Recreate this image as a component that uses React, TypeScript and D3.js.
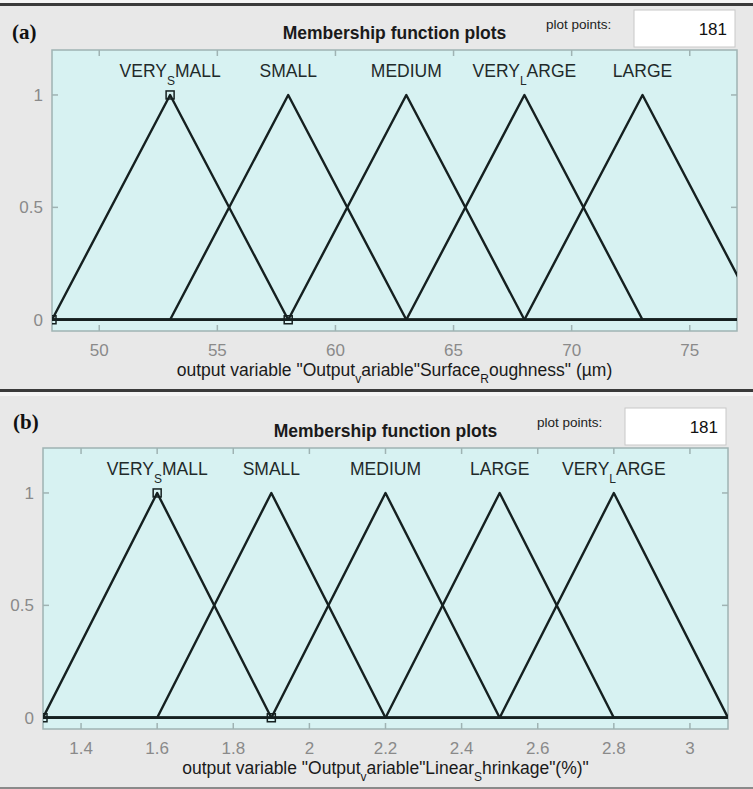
import * as d3 from 'd3';

// membership functions (trimf params)
const MF_NAMES_A = ['VERY_SMALL', 'SMALL', 'MEDIUM', 'VERY_LARGE', 'LARGE'];
const MF_PARAMS_A = [
  [48, 53, 58],
  [53, 58, 63],
  [58, 63, 68],
  [63, 68, 73],
  [68, 73, 78],
];
const X_DOMAIN_A = [48, 77];
const X_TICKS_A = [50, 55, 60, 65, 70, 75];
const X_LABEL_A = 'output variable "Output_variable"Surface_Roughness" (\u00b5m)';

const MF_NAMES_B = ['VERY_SMALL', 'SMALL', 'MEDIUM', 'LARGE', 'VERY_LARGE'];
const MF_PARAMS_B = [
  [1.3, 1.6, 1.9],
  [1.6, 1.9, 2.2],
  [1.9, 2.2, 2.5],
  [2.2, 2.5, 2.8],
  [2.5, 2.8, 3.1],
];
const X_DOMAIN_B = [1.3, 3.1];
const X_TICKS_B = [1.4, 1.6, 1.8, 2, 2.2, 2.4, 2.6, 2.8, 3];
const X_LABEL_B = 'output variable "Output_variable"Linear_Shrinkage"(%)"';

const Y_DOMAIN = [-0.05, 1.2];
const Y_TICKS = [0, 0.5, 1];
const PLOT_POINTS = 181;
const SELECTED = 0;

const FONT = '"Liberation Sans", Arial, Helvetica, sans-serif';
const PLOT_BG = '#d7f2f2';
const PANEL_BG = '#e8e8e8';
const AXIS_COLOR = '#9fb3b3';
const TICK_TEXT = '#8a8a8a';
const TEXT_COLOR = '#1f2a2a';

// matlab tex interpreter: "_X" puts X as a subscript
const texParts = (s) => {
  const parts = [];
  let buf = '';
  for (let i = 0; i < s.length; i++) {
    if (s[i] === '_' && i + 1 < s.length) {
      if (buf) parts.push({ text: buf, sub: false });
      buf = '';
      parts.push({ text: s[i + 1], sub: true });
      i++;
    } else {
      buf += s[i];
    }
  }
  if (buf) parts.push({ text: buf, sub: false });
  return parts;
};

const TexText = ({ str, subSize, shift }) => {
  let offset = 0;
  return texParts(str).map((p, i) => {
    const dy = p.sub ? shift - offset : -offset;
    offset = p.sub ? shift : 0;
    return (
      <tspan key={i} dy={dy} fontSize={p.sub ? subSize : undefined}>
        {p.text}
      </tspan>
    );
  });
};

const Panel = ({ id, tag, names, params, xDomain, xTicks, xLabel, box, tagPos }) => {
  const { left, right, top, bottom } = box;
  const x = d3.scaleLinear().domain(xDomain).range([left, right]);
  const y = d3.scaleLinear().domain(Y_DOMAIN).range([bottom, top]);
  const line = d3
    .line()
    .x((d) => x(d[0]))
    .y((d) => y(d[1]));
  const clipId = `clip-${id}`;
  const sel = params[SELECTED];

  return (
    <g>
      <defs>
        <clipPath id={clipId}>
          <rect x={left} y={top} width={right - left} height={bottom - top} />
        </clipPath>
      </defs>

      <text x={tagPos[0]} y={tagPos[1]} fontFamily='"Liberation Serif", "Times New Roman", serif' fontWeight="bold" fontSize={21} fill="#111">
        {tag}
      </text>
      <text x={(left + right) / 2} y={top - 11} textAnchor="middle" fontFamily={FONT} fontWeight="bold" fontSize={17.5} fill="#1a1a1a">
        Membership function plots
      </text>
      <text x={right - 191} y={top - 21} fontFamily={FONT} fontSize={13.5} fill="#222">
        plot points:
      </text>
      <rect x={right - 103} y={top - 40} width={101} height={37} fill="white" stroke="#c8c8c8" />
      <text x={right - 10} y={top - 15} textAnchor="end" fontFamily={FONT} fontSize={17} fill="#111">
        {PLOT_POINTS}
      </text>

      <rect x={left} y={top} width={right - left} height={bottom - top} fill={PLOT_BG} stroke={AXIS_COLOR} strokeWidth={1.5} />

      {/* ticks, matlab style: inside on all four sides */}
      {xTicks.map((t) => (
        <g key={t} stroke={AXIS_COLOR} strokeWidth={1.5}>
          <line x1={x(t)} x2={x(t)} y1={top} y2={top + 6} />
          <line x1={x(t)} x2={x(t)} y1={bottom} y2={bottom - 6} />
        </g>
      ))}
      {Y_TICKS.map((t) => (
        <g key={t} stroke={AXIS_COLOR} strokeWidth={1.5}>
          <line x1={left} x2={left + 6} y1={y(t)} y2={y(t)} />
          <line x1={right} x2={right - 6} y1={y(t)} y2={y(t)} />
        </g>
      ))}

      <g clipPath={`url(#${clipId})`}>
        {params.map((p, i) => {
          const pts = [
            [Math.min(xDomain[0], p[0]), 0],
            [p[0], 0],
            [p[1], 1],
            [p[2], 0],
            [Math.max(xDomain[1], p[2]), 0],
          ];
          return <path key={i} d={line(pts)} fill="none" stroke="#152020" strokeWidth={2.4} strokeLinejoin="round" />;
        })}
        {[
          [sel[0], 0],
          [sel[1], 1],
          [sel[2], 0],
        ].map((d, i) => (
          <rect key={i} x={x(d[0]) - 4} y={y(d[1]) - 4} width={8} height={8} fill="none" stroke="#152020" strokeWidth={1.5} />
        ))}
      </g>

      {names.map((n, i) => (
        <text key={n + i} x={x(params[i][1])} y={top + 27} textAnchor="middle" fontFamily={FONT} fontSize={17.5} fill={TEXT_COLOR}>
          <TexText str={n} subSize={12} shift={8} />
        </text>
      ))}

      {xTicks.map((t) => (
        <text key={t} x={x(t)} y={bottom + 25} textAnchor="middle" fontFamily={FONT} fontSize={17} fill={TICK_TEXT}>
          {t}
        </text>
      ))}
      {Y_TICKS.map((t) => (
        <text key={t} x={left - 9} y={y(t) + 6} textAnchor="end" fontFamily={FONT} fontSize={17} fill={TICK_TEXT}>
          {t}
        </text>
      ))}

      <text x={(left + right) / 2} y={bottom + 45} textAnchor="middle" fontFamily={FONT} fontSize={17.5} fill="#1a1a1a">
        <TexText str={xLabel} subSize={12} shift={7} />
      </text>
    </g>
  );
};

export default function App() {
  const W = 753;
  const H = 789;
  return (
    <svg width={W} height={H} style={{ position: 'absolute', left: 0, top: 0, background: PANEL_BG }}>
      <rect x={0} y={0} width={W} height={3} fill="#f5f5f5" />
      <rect x={0} y={3} width={W} height={3} fill="#3a3a3a" />
      <rect x={0} y={389} width={W} height={3} fill="#3a3a3a" />
      <rect x={0} y={392} width={W} height={4} fill="#f5f5f5" />
      <rect x={0} y={787} width={W} height={2} fill="#8a8a8a" />

      <Panel
        id="a"
        tag="(a)"
        tagPos={[12, 39]}
        names={MF_NAMES_A}
        params={MF_PARAMS_A}
        xDomain={X_DOMAIN_A}
        xTicks={X_TICKS_A}
        xLabel={X_LABEL_A}
        box={{ left: 52, right: 737, top: 50, bottom: 331 }}
      />
      <Panel
        id="b"
        tag="(b)"
        tagPos={[13, 429]}
        names={MF_NAMES_B}
        params={MF_PARAMS_B}
        xDomain={X_DOMAIN_B}
        xTicks={X_TICKS_B}
        xLabel={X_LABEL_B}
        box={{ left: 43, right: 728, top: 448, bottom: 729 }}
      />
    </svg>
  );
}
